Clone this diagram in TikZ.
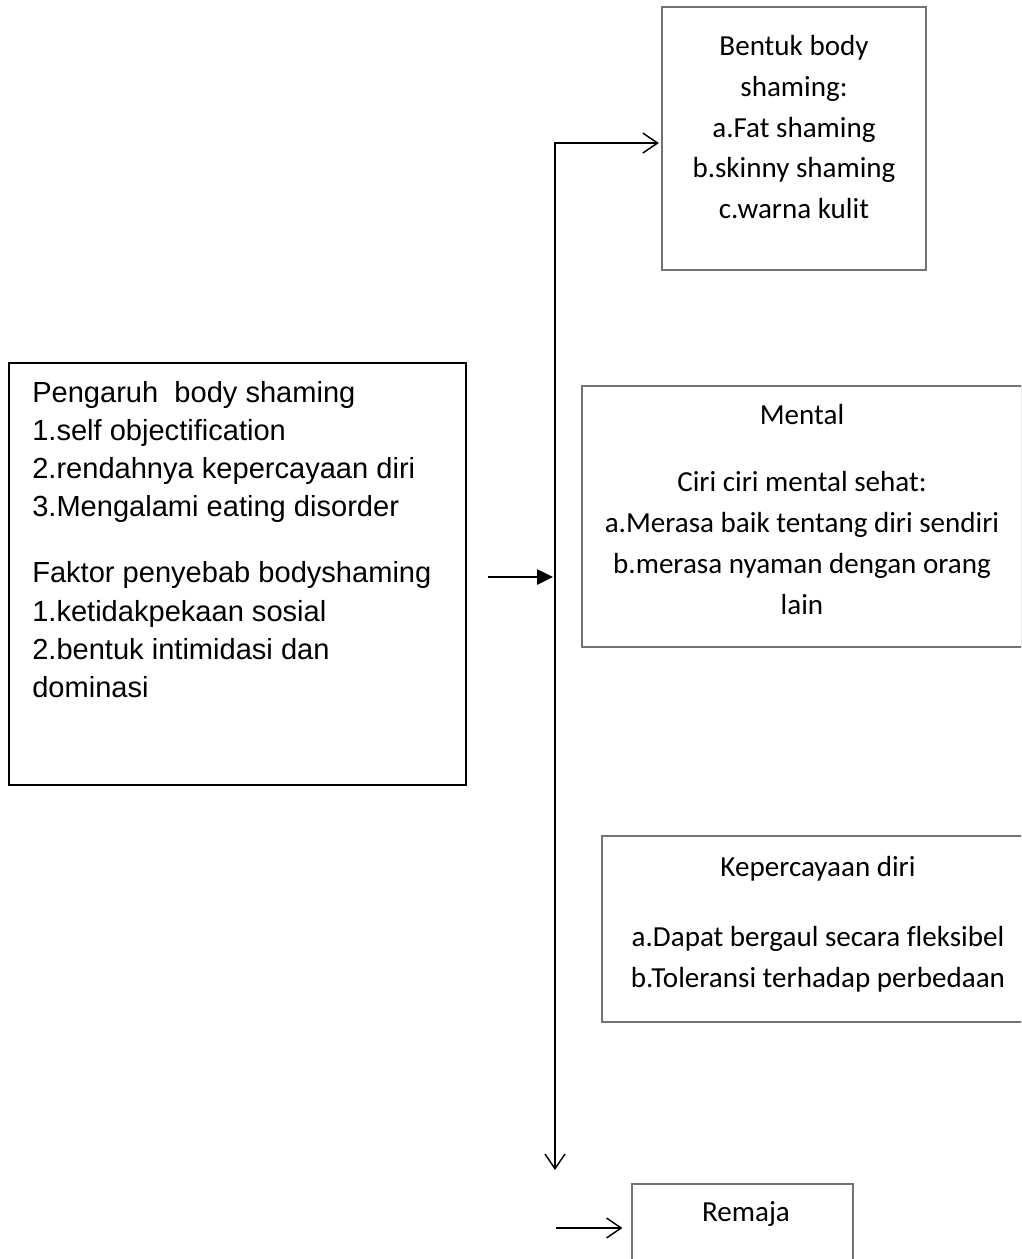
\documentclass[tikz,border=0pt]{standalone}
\usepackage{fontspec}
\setmainfont{Carlito}[Ligatures={NoCommon}]
\newfontfamily\arialfont{Liberation Sans}
\usetikzlibrary{arrows.meta}

\begin{document}
\begin{tikzpicture}[x=0.75pt,y=-0.75pt,
    >={Straight Barb[length=11pt,width=15pt]},
    greyBox/.style={draw=black!55,line width=0.8pt,inner sep=0pt},
    blackBox/.style={draw=black,line width=1pt,inner sep=0pt},
    calibriText/.style={font=\fontsize{21.8}{30.6}\selectfont,align=center,inner sep=0pt,anchor=north},
    arialText/.style={font=\arialfont\fontsize{21.8}{28.6}\selectfont,align=left,inner sep=0pt,anchor=north west},
    link/.style={line width=1.1pt}]
    \useasboundingbox (0,0) rectangle (1021,1259);
    \clip (0,0) rectangle (1021,1259);

    % boxes
    \node[greyBox,minimum width=198pt,minimum height=197.25pt] (bentuk) at (794,138.5) {};
    \node[greyBox,minimum width=330pt,minimum height=195.75pt] (mental) at (802,516.5) {};
    \node[greyBox,minimum width=324pt,minimum height=139.5pt] (percaya) at (818,929) {};
    \node[greyBox,minimum width=165.75pt,minimum height=66pt] (remaja) at (742.5,1228) {};
    \node[blackBox,minimum width=342.75pt,minimum height=316.5pt] (pengaruh) at (237.5,574) {};

    % texts
    \node[calibriText] (bentukTxt) at (794,35) {Bentuk body\\shaming:\\a.Fat shaming\\b.skinny shaming\\c.warna kulit};
    \node[calibriText] (mentalTxt) at (802,404) {Mental\\[20pt]Ciri ciri mental sehat:\\a.Merasa baik tentang diri sendiri\\b.merasa nyaman dengan orang\\lain};
    \node[calibriText] (percayaTxt) at (818,856) {Kepercayaan diri\\[22pt]a.Dapat bergaul secara fleksibel\\b.Toleransi terhadap perbedaan};
    \node[calibriText] (remajaTxt) at (746,1201) {Remaja};
    \node[arialText] (pengaruhTxt) at (32,381) {Pengaruh\ \ body shaming\\1.self objectification\\2.rendahnya kepercayaan diri\\3.Mengalami eating disorder\\[21pt]Faktor penyebab bodyshaming\\1.ketidakpekaan sosial\\2.bentuk intimidasi dan\\dominasi};

    % connectors
    \coordinate (trunkBot) at (555,1170);
    \draw[link,<->,shorten <=2pt] ([yshift=-3.4pt]bentuk.west) -| (trunkBot);
    \draw[link,-{Triangle[length=12pt,width=11.5pt]},shorten >=1.5pt]
        ([xshift=15.75pt,yshift=-2.25pt]pengaruh.east) -- ([yshift=-2.25pt]pengaruh.east -| trunkBot);
    \draw[link,->,shorten >=6.75pt] ([xshift=-56.25pt]remaja.west) -- (remaja.west);
\end{tikzpicture}
\end{document}
